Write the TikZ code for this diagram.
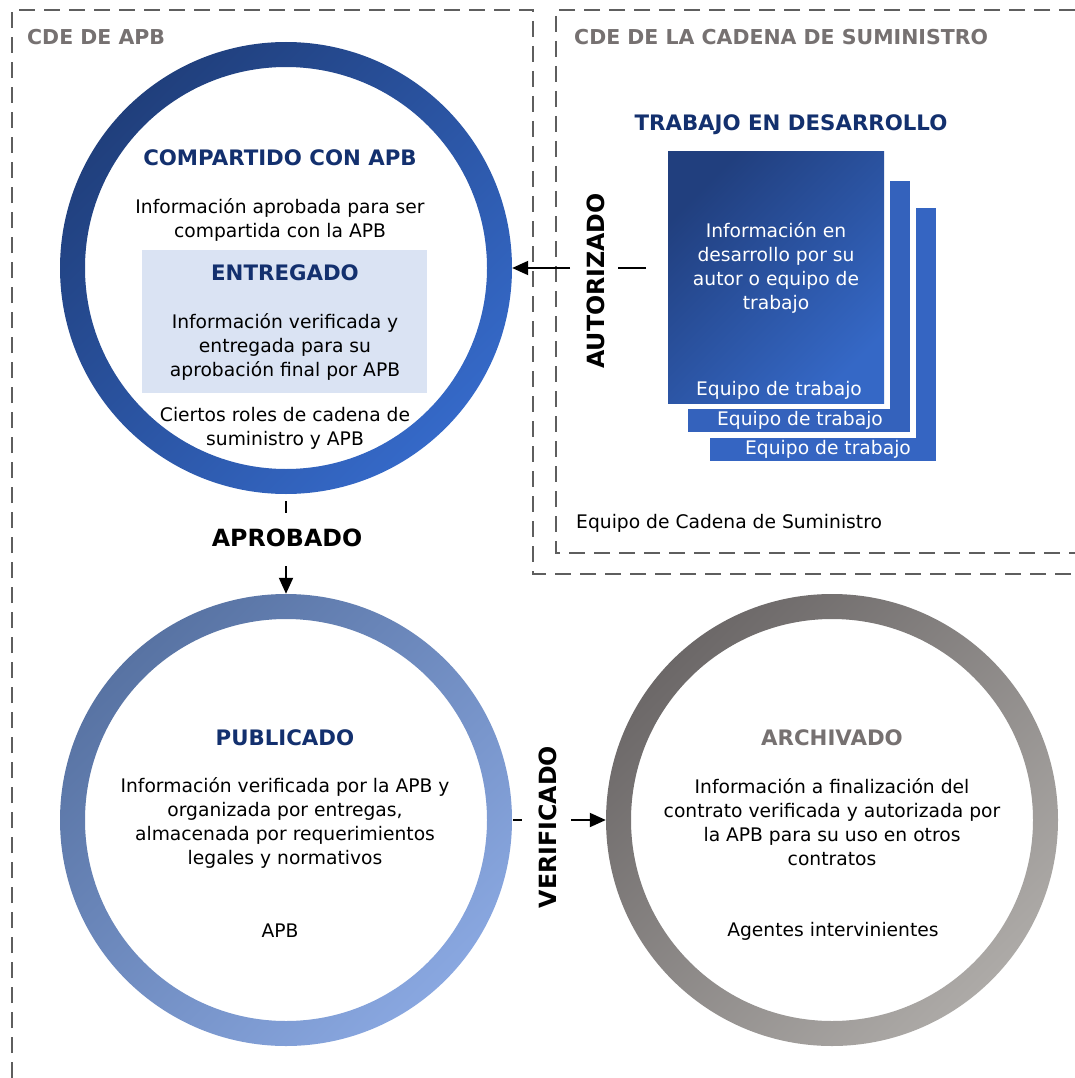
\documentclass[tikz,border=0pt]{standalone}
\usepackage{fontspec}
\setmainfont{DejaVu Sans}
\usetikzlibrary{arrows.meta}
\definecolor{dkblue}{HTML}{13306E}
\definecolor{grtitle}{HTML}{767171}
\definecolor{lightbox}{HTML}{DAE3F3}
\definecolor{dashgray}{HTML}{5E5E5E}
\definecolor{r1a}{HTML}{203F7C}
\definecolor{r1b}{HTML}{3569C8}
\definecolor{r2a}{HTML}{5873A3}
\definecolor{r2b}{HTML}{89A7E0}
\definecolor{r3a}{HTML}{6C6868}
\definecolor{r3b}{HTML}{ADAAA7}
\definecolor{rectA}{HTML}{213F7E}
\definecolor{rectB}{HTML}{3568C6}
\definecolor{recttwo}{HTML}{3462BC}
\definecolor{rectthree}{HTML}{3565C2}
\begin{document}
\begin{tikzpicture}[x=1pt,y=-1pt,
  body/.style={align=center, font=\fontsize{18.7}{24}\selectfont, inner sep=0pt},
  ttl/.style={font=\fontsize{21.3}{26}\selectfont\bfseries, text=dkblue, inner sep=0pt},
  gttl/.style={font=\fontsize{20.5}{26}\selectfont\bfseries, text=grtitle, inner sep=0pt},
  lbl/.style={font=\fontsize{23.7}{28}\selectfont\bfseries, inner sep=0pt},
  wlabel/.style={font=\fontsize{18.7}{24}\selectfont, text=white, inner sep=0pt},
  ringnode/.style={circle, minimum size=452pt, inner sep=0pt},
  frame/.style={draw=dashgray, line width=2.4pt, dash pattern=on 16pt off 9pt},
  conn/.style={line width=2pt, draw=black},
  tip/.style={-{Triangle[length=16pt,width=14pt]}},
  boxnode/.style={inner sep=0pt, outer sep=0pt, anchor=north west},
]
\useasboundingbox (0,0) rectangle (1075,1078);
\fill[white] (0,0) rectangle (1075,1078);

% frames
\draw[frame] (12,1078) -- (12,10) -- (533,10) -- (533,574) -- (1075,574);
\draw[frame] (1075,10) -- (556,10) -- (556,553) -- (1075,553);
\node[gttl, anchor=west] (cdeapb) at (27,37) {CDE DE APB};
\node[gttl, anchor=west] (cdesc) at (574,37) {CDE DE LA CADENA DE SUMINISTRO};

% circles
\node[ringnode] (c1) at (286,268) {};
\node[ringnode] (c2) at (286,820) {};
\node[ringnode] (c3) at (832,820) {};
\shade[even odd rule, top color=r1a, bottom color=r1b, shading angle=45]
  (c1.center) circle[radius=226] (c1.center) circle[radius=201];
\shade[even odd rule, top color=r2a, bottom color=r2b, shading angle=45]
  (c2.center) circle[radius=226] (c2.center) circle[radius=201];
\shade[even odd rule, top color=r3a, bottom color=r3b, shading angle=45]
  (c3.center) circle[radius=226] (c3.center) circle[radius=201];

% top circle content
\node[ttl] (comp) at (280,158) {COMPARTIDO CON APB};
\node[body] (compb) at (280,220) {Información aprobada para ser\\compartida con la APB};
\node[boxnode, fill=lightbox, minimum width=285, minimum height=143] (ent) at (142,250) {};
\node[ttl] (entt) at (285,273) {ENTREGADO};
\node[body] (entb) at (285,347) {Información verificada y\\entregada para su\\aprobación final por APB};
\node[body] (cier) at (285,428) {Ciertos roles de cadena de\\suministro y APB};

% supply chain
\node[ttl] (trab) at (791,125) {TRABAJO EN DESARROLLO};
\path node[boxnode, minimum width=226, minimum height=253] (r3) at (710,208) {}
      node[boxnode, minimum width=222, minimum height=251] (r2) at (688,181) {}
      node[boxnode, minimum width=216, minimum height=251] (r1) at (668,152) {};
\fill[rectthree] (r3.north west) rectangle (r3.south east);
\fill[white] ([shift={(-6,-6)}]r2.north west) rectangle ([shift={(6,6)}]r2.south east);
\fill[recttwo] (r2.north west) rectangle (r2.south east);
\fill[white] ([shift={(-6,-6)}]r1.north west) rectangle ([shift={(6,6)}]r1.south east);
\shade[top color=rectA, bottom color=rectB, shading angle=45] (r1.north west) rectangle (r1.south east);
\node[body, text=white] (r1t) at (776,268) {Información en\\desarrollo por su\\autor o equipo de\\trabajo};
\node[wlabel] (e1) at (779,390) {Equipo de trabajo};
\node[wlabel] (e2) at (800,420) {Equipo de trabajo};
\node[wlabel] (e3) at (828,449) {Equipo de trabajo};
\node[body, anchor=west] (eqc) at (576,523) {Equipo de Cadena de Suministro};

% autorizado connector
\node[lbl, rotate=90] (aut) at (596,281) {AUTORIZADO};
\coordinate (autA) at (646,268);
\coordinate (autB) at (618,268);
\coordinate (autC) at (570,268);
\draw[conn] (autA) -- (autB);
\draw[conn, tip] (autC) -- (c1.east);

% aprobado connector
\node[lbl] (apr) at (287,538) {APROBADO};
\coordinate (apA) at (286,501);
\coordinate (apB) at (286,513);
\coordinate (apC) at (286,566);
\draw[conn] (apA) -- (apB);
\draw[conn, tip] (apC) -- (c2.north);

% publicado
\node[ttl] (pub) at (285,738) {PUBLICADO};
\node[body] (pubb) at (285,823) {Información verificada por la APB y\\organizada por entregas,\\almacenada por requerimientos\\legales y normativos};
\node[body] (apb) at (280,931) {APB};

% verificado connector
\node[lbl, rotate=90] (ver) at (548,827) {VERIFICADO};
\coordinate (vA) at (513,820);
\coordinate (vB) at (522,820);
\coordinate (vC) at (571,820);
\draw[conn] (vA) -- (vB);
\draw[conn, tip] (vC) -- (c3.west);

% archivado
\node[gttl, font=\fontsize{21.3}{26}\selectfont\bfseries] (arch) at (832,738) {ARCHIVADO};
\node[body] (archb) at (832,822) {Información a finalización del\\contrato verificada y autorizada por\\la APB para su uso en otros\\contratos};
\node[body] (agen) at (833,931) {Agentes intervinientes};
\end{tikzpicture}
\end{document}
